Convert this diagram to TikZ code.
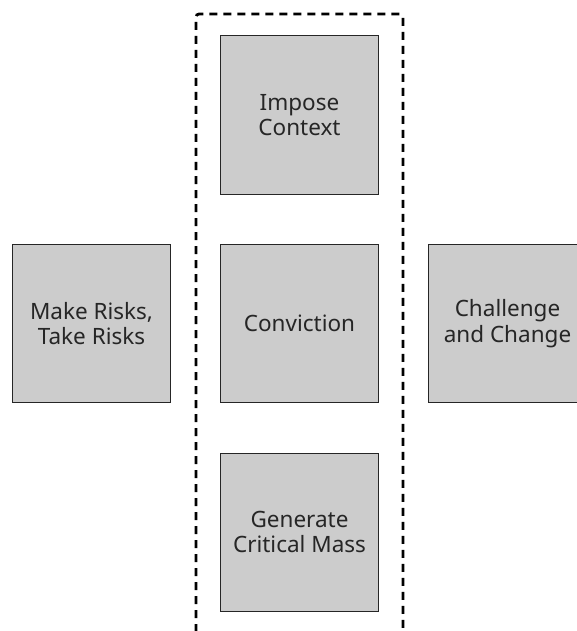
\documentclass[tikz,border=0pt]{standalone}
\usepackage{fontspec}
\setmainfont{Noto Sans}[Ligatures=NoCommon]
\begin{document}
\begin{tikzpicture}[x=1pt,y=-1pt,
  block/.style={draw=black!85,fill=black!20,line width=1pt,minimum width=158pt,minimum height=158pt,
    align=center,inner sep=0pt,font=\fontsize{22.5}{25.5}\selectfont,text=black!85},
  group/.style={draw=black,line width=2.8pt,dash pattern=on 8pt off 6pt,rounded corners=3pt}]
\useasboundingbox (0,0) rectangle (577,631);
\begin{scope}
\clip (0,0) rectangle (577,631);
\draw[group] (196,660) -- (196,14) -- (403,14) -- (403,660);
\node[block] (impose) at (299.5,115) {Impose\\Context};
\node[block] (conv) at (299.5,323.5) {Conviction};
\node[block] (make) at (91.5,323.5) {Make Risks,\\Take Risks};
\node[block] (chal) at (507.5,323.5) {Challenge\\and Change};
\node[block] (gen) at (299.5,532) {Generate\\Critical Mass};
\end{scope}
\end{tikzpicture}
\end{document}
